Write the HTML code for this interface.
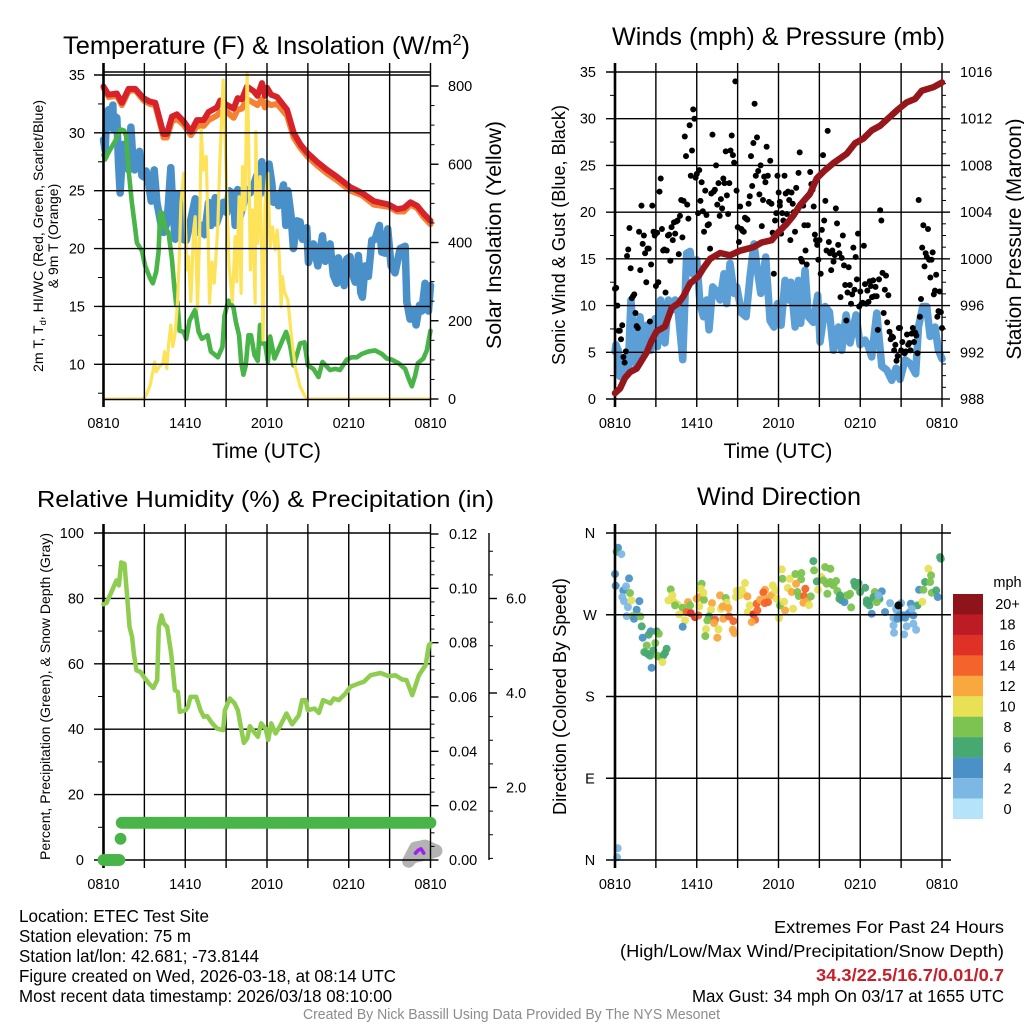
<!DOCTYPE html>
<html lang="en">
<head>
<meta charset="utf-8">
<title>ETEC Test Site Meteogram</title>
<style>
html,body{margin:0;padding:0;background:#fff;}
svg{display:block;}
text{font-family:"Liberation Sans",Arial,sans-serif;fill:#000;}
</style>
</head>
<body>
<svg id="chart" xmlns="http://www.w3.org/2000/svg" width="1024" height="1024" viewBox="0 0 1024 1024">
<rect x="0" y="0" width="1024" height="1024" fill="#fff"/>
<defs><clipPath id="insolClip"><rect x="95" y="60" width="345" height="340"/></clipPath></defs>

<g id="p1"></g>
<g id="p2"></g>
<g id="p3"></g>
<g id="p4"></g>
<g id="cb"></g>

<text x="63" y="54" font-size="25" textLength="407" lengthAdjust="spacingAndGlyphs">Temperature (F) &amp; Insolation (W/m<tspan dy="-9" font-size="16">2</tspan><tspan dy="9">)</tspan></text>
<text x="612" y="45" font-size="25" textLength="333" lengthAdjust="spacingAndGlyphs">Winds (mph) &amp; Pressure (mb)</text>
<text x="37" y="507" font-size="23" textLength="457" lengthAdjust="spacingAndGlyphs">Relative Humidity (%) &amp; Precipitation (in)</text>
<text x="697" y="505" font-size="25" textLength="164" lengthAdjust="spacingAndGlyphs">Wind Direction</text>

<text x="266.5" y="458" font-size="21" text-anchor="middle">Time (UTC)</text>
<text x="778" y="458" font-size="21" text-anchor="middle">Time (UTC)</text>

<text transform="translate(43,236) rotate(-90)" font-size="14" text-anchor="middle" textLength="272" lengthAdjust="spacingAndGlyphs">2m T, T<tspan font-size="9" dy="3">d</tspan><tspan dy="-3">, HI/WC (Red, Green, Scarlet/Blue)</tspan></text>
<text transform="translate(58,236) rotate(-90)" font-size="14" text-anchor="middle">&amp; 9m T (Orange)</text>
<text transform="translate(501,235) rotate(-90)" font-size="21" text-anchor="middle" textLength="228" lengthAdjust="spacingAndGlyphs">Solar Insolation (Yellow)</text>
<text transform="translate(565,235) rotate(-90)" font-size="18" text-anchor="middle" textLength="260" lengthAdjust="spacingAndGlyphs">Sonic Wind &amp; Gust (Blue, Black)</text>
<text transform="translate(1021,239) rotate(-90)" font-size="21" text-anchor="middle" textLength="241" lengthAdjust="spacingAndGlyphs">Station Pressure (Maroon)</text>
<text transform="translate(50,696.5) rotate(-90)" font-size="14" text-anchor="middle" textLength="327" lengthAdjust="spacingAndGlyphs">Percent, Precipitation (Green), &amp; Snow Depth (Gray)</text>
<text transform="translate(566,696.5) rotate(-90)" font-size="18" text-anchor="middle" textLength="237" lengthAdjust="spacingAndGlyphs">Direction (Colored By Speed)</text>

<text x="19" y="922" font-size="17.5" textLength="190" lengthAdjust="spacingAndGlyphs">Location: ETEC Test Site</text>
<text x="19" y="942" font-size="17.5" textLength="172" lengthAdjust="spacingAndGlyphs">Station elevation: 75 m</text>
<text x="19" y="962" font-size="17.5" textLength="240" lengthAdjust="spacingAndGlyphs">Station lat/lon: 42.681; -73.8144</text>
<text x="19" y="982" font-size="17.5" textLength="377" lengthAdjust="spacingAndGlyphs">Figure created on Wed, 2026-03-18, at 08:14 UTC</text>
<text x="19" y="1002" font-size="17.5" textLength="373" lengthAdjust="spacingAndGlyphs">Most recent data timestamp: 2026/03/18 08:10:00</text>
<text x="774" y="933" font-size="17.5" textLength="230" lengthAdjust="spacingAndGlyphs">Extremes For Past 24 Hours</text>
<text x="620" y="957" font-size="17.5" textLength="384" lengthAdjust="spacingAndGlyphs">(High/Low/Max Wind/Precipitation/Snow Depth)</text>
<text x="816" y="981" font-size="17.5" font-weight="bold" style="fill:#c8202a" textLength="188" lengthAdjust="spacingAndGlyphs">34.3/22.5/16.7/0.01/0.7</text>
<text x="692" y="1002" font-size="17.5" textLength="312" lengthAdjust="spacingAndGlyphs">Max Gust: 34 mph On 03/17 at 1655 UTC</text>
<text x="303" y="1019" font-size="14.5" style="fill:#8c8c8c" textLength="417" lengthAdjust="spacingAndGlyphs">Created By Nick Bassill Using Data Provided By The NYS Mesonet</text>
</svg>

<script>
// ---------- shared tick labels ----------
const xTickLabels = ['0810','1410','2010','0210','0810'];
const tempTicks = [10,15,20,25,30,35];
const insolTicks = [0,200,400,600,800];
const windTicks = [0,5,10,15,20,25,30,35];
const pressTicks = [988,992,996,1000,1004,1008,1012,1016];
const rhTicks = [0,20,40,60,80,100];
const precipTicks = ['0.00','0.02','0.04','0.06','0.08','0.10','0.12'];
const snowTicks = ['2.0','4.0','6.0'];
const dirTicks = ['N','E','S','W','N'];
const speedLabels = ['20+','18','16','14','12','10','8','6','4','2','0'];

// ---------- temperature panel series ----------
const tempHours = [0,.37,.98,1.35,1.84,2.33,2.94,3.4,3.8,4.41,4.65,5.02,5.39,5.88,6.42,6.86,7.35,7.71,8.33,8.57,9.06,9.55,9.85,10.16,10.53,11.02,11.3,11.63,11.85,12,12.3,12.74,13.47,13.96,14.45,14.94,15.67,16.41,17.14,18.12,18.98,19.84,20.94,21.55,22.04,22.53,23.02,23.51,24];
const tempVals = [34,33.3,33.4,32.6,33.8,33.8,33,32.7,32.6,29.9,29.9,31.4,31.6,31,30.1,31.1,31.1,31.8,32.2,32.8,32.4,32.1,33,32.9,34,33.6,33.2,34.3,33.2,33.9,33.3,33.1,32,30,29,28.3,27.5,26.8,26.2,25.3,24.8,24.1,23.8,23.4,23.5,24,23.7,23,22.4];
const temp9mVals = [33.9,33.1,33.2,32.4,33.6,33.7,32.8,32.5,32.4,29.6,29.6,31,31.2,30.7,29.8,30.6,30.6,31.1,31.5,31.8,31.8,31.3,32,32.1,32.9,32.6,32.4,32.9,32.2,32.6,32.4,32.5,31.5,29.6,28.7,28,27.2,26.5,25.9,25,24.6,23.8,23.6,23.2,23.2,23.8,23.5,22.7,22.1];
const chillHours = [0,.12,.24,.37,.49,.69,.73,.86,.98,1.1,1.22,1.35,1.47,1.66,1.84,2.01,2.13,2.28,2.45,2.64,2.82,2.94,3.13,3.3,3.5,3.72,3.92,4.11,4.28,4.41,4.65,4.77,4.94,5.09,5.26,5.43,5.63,5.83,6.07,6.32,6.73,6.98,7.22,7.42,7.71,7.88,8.2,8.31,8.56,8.8,9.05,9.22,9.54,9.66,9.85,10.03,10.27,10.51,10.76,11,11.25,11.42,11.62,11.81,11.98,12.15,12.35,12.47,12.72,12.84,13.21,13.38,13.53,13.77,13.94,14.19,14.43,14.6,14.92,15.04,15.41,15.73,16.07,16.27,16.63,16.87,17.12,17.24,17.49,17.66,17.85,18.1,18.22,18.47,18.71,18.88,19,19.2,19.44,19.69,19.93,20.25,20.42,20.67,20.86,21.11,21.4,21.77,22.14,22.26,22.5,22.75,22.94,23.19,23.36,23.6,23.85,24];
const chillVals = [29.4,28.5,31.7,32,31.1,32.4,30.3,31.4,31.3,27.4,24.8,27.4,29,28.8,26.8,30.5,28.2,26.8,27.7,28.4,26.3,26.2,26.7,25.7,24.1,26.8,24,22.8,21.7,21.4,22.2,24,27,23.4,20.8,24.7,24.1,20.8,20.7,22,24.3,21.4,22,21.2,24,22,24.4,22.2,23.1,24,23.1,25,24.7,22,25.1,22.8,23.8,25.1,24.8,25.4,26.3,24.6,27.5,25.6,24.7,27.3,25.7,24,24.6,23.7,25.5,22,25,22.8,20,22.4,22.3,20.8,21.8,18.8,20.4,18.5,21.1,18.9,20.4,17.7,17,19.2,18.2,16.8,19.1,19.3,18,17.1,19.4,16.2,15.8,18.5,17.6,20.7,20.8,22,19.7,19.6,21.7,18.5,17.9,20,20.2,15.4,13.9,14.7,13.4,15.1,14.6,17,14.6,16.8];
const dewHours = [0,.12,.37,.61,.86,1.22,1.52,1.66,1.84,2.08,2.33,2.45,2.82,3.06,3.43,3.62,3.87,4.04,4.16,4.28,4.53,4.77,5.02,5.19,5.34,5.43,5.58,5.88,6.07,6.32,6.73,6.98,7.22,7.64,7.88,8.2,8.39,8.73,8.88,9.17,9.54,9.71,9.95,10.1,10.27,10.44,10.64,10.83,11.08,11.32,11.49,11.57,11.86,12.06,12.23,12.55,12.96,13.4,13.7,13.94,14.19,14.43,14.75,15,15.41,15.78,16.07,16.63,17,17.36,17.85,18.22,18.59,18.96,19.44,19.93,20.42,20.79,21.16,21.65,22.14,22.38,22.63,22.87,23.07,23.48,23.73,24];
const dewVals = [28.1,27.7,28.3,28.8,29.3,30.3,30.2,29.7,26.8,24,21.7,20.5,19.8,18.5,17.4,17,18,19.7,23.1,23.1,21.8,21.4,19.1,16.8,15.1,15.4,12.9,12.8,12.2,13.8,14.7,12.8,12.2,12.5,11.1,10.8,10.6,11.5,14.2,15.5,14.9,13.7,12.5,10.2,9.1,9.9,12.5,12.5,10.8,10.3,13.4,11.8,11.8,10.2,12.4,10.5,11.6,12.8,11.6,9.9,10.8,11.8,11.9,9.9,9.6,8.9,10.2,9.5,9.6,9.5,10.4,10.6,10.6,10.9,11.1,11.2,10.9,10.5,10.4,10.1,9.6,8.8,8.1,9,10.1,10.5,11.2,12.9];
const insolHours = [0,2.94,3.18,3.43,3.62,3.75,3.87,4.11,4.36,4.48,4.65,4.77,4.94,5.09,5.26,5.43,5.58,5.68,5.88,6,6.12,6.24,6.41,6.61,6.73,6.9,7.05,7.17,7.34,7.54,7.64,7.78,7.96,8.13,8.39,8.53,8.78,8.92,9.12,9.22,9.46,9.66,9.78,9.95,10.1,10.2,10.39,10.54,10.64,10.78,10.93,11.13,11.18,11.32,11.49,11.62,11.71,11.86,12.06,12.23,12.4,12.6,12.74,12.89,13.04,13.13,13.28,13.53,13.77,14.06,14.43,14.8,15.04,24];
const insolVals = [0,0,14,36,70,95,70,83,91,121,78,138,189,134,168,245,381,500,577,457,330,364,249,430,466,232,415,688,585,620,480,245,350,296,440,594,815,670,449,338,249,415,300,517,270,594,483,832,688,330,483,245,683,398,568,364,151,500,577,389,440,381,432,372,236,313,274,253,168,83,32,6,0,0];

// ---------- wind panel series ----------
const windHours = [0,.07,.24,.37,.61,.81,.98,1.17,1.4,1.54,1.84,2.08,2.33,2.62,2.94,3.11,3.35,3.67,3.92,4.16,4.41,4.65,4.97,5.26,5.51,5.7,6,6.24,6.49,6.73,6.9,7.17,7.46,7.71,8,8.2,8.44,8.74,8.93,9.3,9.62,9.91,10.2,10.45,10.7,11.06,11.38,11.67,11.92,12.19,12.48,12.73,12.9,13.22,13.46,13.63,13.95,14.19,14.56,14.88,15.05,15.42,15.74,16.03,16.4,16.64,16.96,17.25,17.69,17.99,18.35,18.6,18.84,19.21,19.58,19.95,20.31,20.63,20.92,21.29,21.66,22.07,22.27,22.59,22.88,23.13,23.49,23.74,24];
const windVals = [5.1,5.8,5.2,2.4,2.6,4.2,3.5,10.6,6,3.6,8.8,4.9,7.9,5.2,8.6,5.6,10.6,6,10.6,9.5,10.6,9.2,4.2,15.6,15.8,13.4,14.9,10.2,8.8,10.6,7.4,12,11.5,10.6,13.4,10.2,14.5,11.3,12,9.2,8.8,13.1,16.6,13.8,11.3,15.2,8.4,7.7,10.2,7.9,12.7,10.6,12.5,7.7,12.7,8.1,13.8,8.8,8.2,11.1,6.1,9.9,9.3,5.2,7.7,5.2,9,6,9,5.8,6.3,5.6,4.5,9.2,3.5,3.1,2,3.3,2.1,4.2,3.8,2.7,7.7,9.9,9.9,6.7,7.7,5.2,4.3];
const pressHours = [0,.37,.73,1.1,1.59,1.96,2.33,2.69,3.06,3.67,4.16,4.65,5.02,5.51,6.12,6.49,6.98,7.71,8.44,9.18,10.16,10.77,11.5,11.92,12.6,13.09,13.58,14.32,14.81,15.42,16.03,16.52,17.01,17.62,18.23,18.84,19.46,20.68,21.41,22.03,22.52,23.37,24];
const pressVals = [988.5,988.9,989.8,990.3,990.6,991.3,992,993,993.8,994.2,995.8,996.2,996.8,997.9,998.5,999.2,1000,1000.5,1000.3,1000.7,1001,1001.4,1001.6,1002.2,1003,1003.7,1004.6,1005.6,1006.9,1007.6,1008.2,1008.6,1009,1009.9,1010.3,1011,1011.4,1012.7,1013.4,1013.7,1014.4,1014.7,1015.1];
const gustFirst12h = [11.8,11.9,10,7.3,7.3,6.4,7.9,4.5,3.9,5.1,15.3,16,18.3,14,10.8,11,11.2,9.2,7.8,7.6,17.9,13.8,20.7,16.6,17.5,15.6,12.5,16.1,16.1,8.3,14.4,20.7,17.9,17.5,12.1,17.8,12.5,22.2,23.6,18.2,15.9,16,11.4,15.9,17.5,17.6,14.8,18.4,17,18.9,17.7,19,19.1,15.5,19.6,21.3,17.3,21.2,28.1,26,20.8,19.3,29.3,23.9,26.6,31,30,23.7,24.1,19.9,24.5,21.2,23.2,20.1,17.9,22.3,19.7,18.6,18.7,16.1,22,28.3,22.2,22.4,25,20.8,23.1,19.6,21.4,20.4,23.6,23.1,26.5,21.8,19.8,23.1,26.6,28.2,26.1,25.3,34,22.3,18.4,16.8,20.6,18.2,18,17.9,19.4,19.3,19.2,20.9,21.7,26,22.8,27.4,31.6,23.9,28,24.4,21.9,25,18.5,21.3,23.8,23.2,27,23.9,21.1,25.5,20.9,17.8,13.4,19.1,19.9,23.9,22.1,21.1];
const gustLast12h = [20.7,17.7,19.9,19.1,23.9,22,19.8,22.2,21.3,17,22.1,20.9,20,17.9,22.6,20.2,24.2,26.4,15,14.7,20.7,18.6,15.9,14.4,18.6,21.8,24.3,23,22.4,20.6,17.6,17,16.5,14.9,17,13.4,18.1,26.1,19.1,21.2,15.9,28.7,16.8,15.6,13.8,15.9,14.7,15.4,20.4,18.8,16.5,15.6,10.9,15.1,17.5,14.3,12.2,8.4,11.4,14.1,12.2,10.2,11.2,16.2,11.7,15.2,12.8,17.7,9.9,11.5,10.2,10.3,16.4,12.3,10.2,11.6,10.4,12.6,12.1,10.9,12.7,11,12,11,7.4,12.8,20.2,19.1,13.5,9.2,11.7,13.2,8.2,11.1,7.2,6.4,6.7,6.6,5.2,5.8,4.1,4.6,7.6,7.6,5.2,6.1,5,4.9,5.1,6.9,5.8,6,5.2,7,7.6,6.1,7.1,6.8,4.9,21.3,8.8,10.7,16.2,18.6,14.2,15.6,15.2,18.2,14.9,13,14.9,15.7,11.2,11.6,13.3,8.8,9.4,11.5,9.3,7.6];

// ---------- humidity panel series ----------
const rhHours = [0,.22,.64,.95,1.13,1.3,1.54,1.74,1.91,2.1,2.23,2.42,2.72,2.96,3.33,3.65,3.94,4.06,4.26,4.43,4.67,4.97,5.24,5.46,5.6,6.02,6.19,6.39,6.8,7.12,7.36,7.61,7.98,8.34,8.78,8.91,9.27,9.62,9.86,10.3,10.55,10.74,11.04,11.33,11.57,11.89,12.09,12.31,12.63,12.99,13.43,13.85,14.34,14.58,14.83,15,15.49,15.81,16.12,16.66,16.91,17.27,17.76,18.13,18.74,19.11,19.6,20.33,20.94,21.43,21.92,22.24,22.66,23.15,23.64,23.88,24];
const rhVals = [78.2,78.6,82.5,85.5,84,91,90.6,80.4,71.3,68.2,63,58,57.5,56,54,52.6,55,71.3,74.8,72.3,71.3,63,51.9,51.4,45.3,45.8,46.8,49.9,49.9,45.8,43.8,44,41.8,40.2,39.7,45.8,49.4,47.9,45.8,35.8,37.2,40.9,39.2,37.7,41.8,40.2,36.7,41.8,38.7,41.2,44.8,41.5,44.3,48.9,48.9,45.8,46.3,45,48.9,47.9,49.4,48.9,50.9,53,54,54.5,56.5,57.2,56.2,56.5,55.2,55,50.4,56.5,59.6,65.7,66.2];
const precipStepHours = [0,1.2,1.27];
const precipStepVals = [0,0.0078,0.0137];
const snowHours = [22.4,22.9,23.6,24.4,23.6,22.9,22.5];
const snowVals = [0.44,0.72,0.76,0.66,0.59,0.55,0.49];
const accentHours = [22.9,23.1,23.3,23.4,23.5];
const accentVals = [2.1,3,3.4,2.8,2.1];

// ---------- direction panel series ----------
const dirHours = [.15,.2,.22,.12,.47,0,1.03,.05,.61,.81,1.1,.54,.66,1.2,1.79,.95,1.59,.86,1.3,1.4,1.86,1.96,2.62,3.06,3.21,2.47,2.03,2.96,2.33,2.81,2.15,2.37,2.57,3.79,3.67,3.11,3.3,3.55,3.48,2.69,4.09,4.21,3.92,4.33,4.58,4.41,5.36,4.97,4.72,5.14,4.97,5.26,5.56,5.87,6.12,5.51,6,6.24,6.19,6.53,6.36,6.29,6.49,7.12,7.05,6.9,6.78,7.34,7.27,7.95,8.37,8.69,7.59,6.68,6.63,7.51,8.64,8.76,7.71,8.13,8.2,7.78,7.9,8.32,8.93,9.3,9.54,8.88,9.18,9.42,9.72,9.89,9.74,10.16,10.28,10.03,10.45,10.4,10.65,11.01,10.89,11.14,10.99,11.23,11.48,11.58,11.77,11.87,12.04,12.11,12.41,12.48,13.07,12.24,12.29,12.82,13.24,13.68,13.66,13.29,12.68,12.97,13.39,13.49,13.97,13.88,14.12,13.83,14.24,14.37,14.56,14.61,14.9,15.15,15.42,15.81,14.81,15.3,15.54,15.91,16.23,15.59,16.32,16.47,16.64,16.84,17.01,17.25,17.33,17.55,17.87,17.74,18.36,17.99,18.48,18.67,18.84,19.09,19.41,19.07,19.58,19.82,20.19,20.63,21,21.71,22.2,22.56,20.44,20.44,20.48,20.73,21.05,21.29,21.66,21.9,21.41,22.1,21.22,21.9,22.32,22.64,22.76,23,23.2,23.13,23.25,23.57,23.69,23.86,23.91,15.79,16.03,16.52,17.13,17.62,18.48,18.6,18.97,19.21,19.33,20.68,20.88,21.17,21.54,21.78,20.8];
const dirDegs = [3,13,343.8,339.4,336.8,314.8,310,301.9,296.8,301.2,293.9,289.5,285,285.8,285,278.4,275.5,268.5,268.5,265.6,268.2,257.2,251.7,251.7,249.1,248,244.7,238.8,236.2,230.7,228.9,227.1,224.9,232.6,227.8,224.9,223.4,225.2,217.9,211.6,297.9,291.3,285.8,283.9,281.4,280.3,283.9,277.7,270.4,263.8,256.8,272.9,271.8,267.4,269.3,280.3,287.6,289.5,279.2,286.5,304.1,298.6,294.2,282.8,275.5,268.2,263.8,264.5,260.8,265.6,268.2,263,253.9,254.2,246.5,244.7,253.5,249.8,291.3,288.4,283.2,276.6,279.2,277.3,296.1,297.5,304.9,289.5,291.3,293.1,290.2,280.3,272.9,270.4,264.5,261.9,274.8,282.1,286.5,297.5,294.6,287.6,282.8,283.9,291.3,302.3,296.8,287.6,266.3,280.3,284.3,274.8,276.6,319.9,309.6,309.6,314.8,315.9,308.9,304.1,299.4,295,295,290.6,298.6,290.6,285,283.2,280.6,290.2,329.1,318.8,297.5,311.5,322.5,320.6,306.7,307.8,304.1,304.1,307.1,293.1,296.1,287.6,285.8,283.9,291.3,293.1,278.1,306,304.9,300.5,299.7,295,285.8,280.3,271.1,287.6,287.6,295,295.7,272.9,282.8,276.6,282.8,282.1,280.3,284.3,266.7,258.3,250.2,265.6,267.4,266.7,272.9,269.3,257.2,253.5,248.3,260.1,297.5,297.5,306,320.6,313.3,306,294.2,296.8,289.5,333.5,331.7,306,302.3,291.3,291.3,302.3,282.8,283.9,289.5,283.9,291.3,274.8,269.3,269.3,271.1,276.6,280.3];
const dirSpeeds = [2,2,4,6,2,4,4,4,4,2,8,2,2,10,4,2,4,2,8,4,8,6,4,6,8,6,4,8,8,6,6,6,6,6,6,8,8,6,10,4,8,10,10,10,10,8,12,8,10,10,4,14,16,16,14,8,12,12,10,8,8,10,10,12,10,6,8,14,12,12,14,14,10,10,8,12,12,12,12,8,10,10,12,12,10,10,10,10,10,10,12,10,10,16,14,12,14,14,12,12,14,12,14,14,12,10,10,10,10,8,10,12,10,10,8,10,8,8,8,12,10,12,8,8,14,14,12,12,10,8,6,8,10,10,8,8,6,8,8,8,8,8,8,6,6,4,8,8,8,6,6,8,6,6,6,6,4,6,6,8,4,4,2,2,2,4,6,10,2,2,2,4,4,4,4,4,2,2,2,2,4,8,6,10,8,8,8,6,4,6,6,8,8,6,8,6,6,6,6,8,2,2,4,4,4,2];

// ---------- style tables and scales (no data in here) ----------
const speedColors = ['#8e1419','#bd1c26','#e03127','#f4632a','#f9a73f','#e8e055','#7cc34f','#47a971','#4b91c8','#7db8e5','#b5e3fa'];
const NS = 'http://www.w3.org/2000/svg';

function add(parent, tag, attrs, name, text) {
  const el = document.createElementNS(NS, tag);
  for (const k in attrs) el.setAttribute(k, attrs[k]);
  
  
  if (text !== undefined) el.textContent = text;
  parent.appendChild(el);
  return el;
}
function hLine(g, x1, x2, y, w, name) {
  return add(g, 'line', {x1: x1, x2: x2, y1: y, y2: y, stroke: '#000', 'stroke-width': w}, name);
}
function vLine(g, x, y1, y2, w, name) {
  return add(g, 'line', {x1: x, x2: x, y1: y1, y2: y2, stroke: '#000', 'stroke-width': w}, name);
}
function series(g, hours, vals, xf, yf, color, w, name, extra) {
  const n = Math.min(hours.length, vals.length);
  let d = '';
  for (let i = 0; i < n; i++) d += (i ? 'L' : 'M') + xf(hours[i]).toFixed(2) + ' ' + yf(vals[i]).toFixed(2);
  const attrs = {d: d, fill: 'none', stroke: color, 'stroke-width': w, 'stroke-linecap': 'round', 'stroke-linejoin': 'round'};
  if (extra) for (const k in extra) attrs[k] = extra[k];
  return add(g, 'path', attrs, name);
}
function tickText(g, x, y, anchor, label, name) {
  return add(g, 'text', {x: x, y: y + 5, 'font-size': 14.5, 'text-anchor': anchor}, name, label);
}
function timeAxis(g, xf, top, bottom, labelY, prefix) {
  for (let i = 0; i <= 8; i++) {
    const x = xf(i * 3);
    vLine(g, x, top, bottom, i === 0 ? 2.6 : 1.4, prefix + '-time-gridline');
    if (i % 2 === 0) tickText(g, x, labelY, 'middle', xTickLabels[i / 2], prefix + '-time-tick-label');
  }
}

// ---------- panel 1 ----------
(function () {
  const g = document.getElementById('p1');
  const x = h => 103.5 + h / 24 * 327;
  const yT = v => 399 - (v - 7) * 324 / 28;
  const yI = v => 399 - v * 313 / 800;
  series(g, tempHours, temp9mVals, x, yT, '#f58233', 6, 'temperature-9m-line');
  series(g, tempHours, tempVals, x, yT, '#d7222a', 6, 'temperature-2m-line');
  series(g, chillHours, chillVals, x, yT, '#4a90c8', 7.5, 'wind-chill-line');
  series(g, dewHours, dewVals, x, yT, '#49b548', 4.6, 'dew-point-line');
  series(g, insolHours, insolVals, x, yI, '#fde35a', 3.2, 'solar-insolation-line', {'clip-path': 'url(#insolClip)'});
  for (let v = 7.5; v <= 35; v += 2.5) {
    if (v % 5 !== 0) hLine(g, 98, 103.5, yT(v), 1, 'temperature-minor-tick');
  }
  tempTicks.forEach(v => {
    hLine(g, 94, 430.5, yT(v), 1.4, 'temperature-gridline');
    tickText(g, 85, yT(v), 'end', String(v), 'temperature-tick-label');
  });
  hLine(g, 103, 430.5, 72, 1.4, 'temperature-top-frame');
  for (let v = 0; v <= 800; v += 50) {
    if (v % 200 !== 0) hLine(g, 430.5, 434.5, yI(v), 1, 'insolation-minor-tick');
  }
  insolTicks.forEach(v => {
    hLine(g, 430.5, 438.5, yI(v), 1.4, 'insolation-tick');
    tickText(g, 448, yI(v), 'start', String(v), 'insolation-tick-label');
  });
  timeAxis(g, x, 63, 407, 423, 'temperature');
  hLine(g, 103, 430.5, 399.5, 1.4, 'temperature-bottom-frame');
})();

// ---------- panel 2 ----------
(function () {
  const g = document.getElementById('p2');
  const x = h => 615 + h / 24 * 327;
  const yW = v => 399 - v * 327 / 35;
  const yP = v => 399 - (v - 988) * 327 / 28;
  series(g, windHours, windVals, x, yW, '#5b9fd6', 7.5, 'sonic-wind-line');
  for (let v = 2.5; v <= 35; v += 5) hLine(g, 610, 615, yW(v), 1, 'wind-minor-tick');
  windTicks.forEach(v => {
    hLine(g, 606, 942, yW(v), 1.4, 'wind-gridline');
    tickText(g, 596, yW(v), 'end', String(v), 'wind-tick-label');
  });
  for (let v = 988; v <= 1016; v += 1) {
    if ((v - 988) % 4 !== 0) hLine(g, 942, 946, yP(v), 1, 'pressure-minor-tick');
  }
  pressTicks.forEach(v => {
    hLine(g, 942, 950, yP(v), 1.4, 'pressure-tick');
    tickText(g, 960, yP(v), 'start', String(v), 'pressure-tick-label');
  });
  timeAxis(g, x, 63, 407, 423, 'winds');
  gustFirst12h.forEach((v, i) => {
    add(g, 'circle', {cx: x(i * 12.1 / (gustFirst12h.length - 1)), cy: yW(v), r: 3, fill: '#000'}, 'gust-point');
  });
  gustLast12h.forEach((v, i) => {
    add(g, 'circle', {cx: x(12.1 + i * 11.9 / (gustLast12h.length - 1)), cy: yW(v), r: 3, fill: '#000'}, 'gust-point');
  });
  series(g, pressHours, pressVals, x, yP, '#96171b', 6.5, 'station-pressure-line');
})();

// ---------- panel 3 ----------
(function () {
  const g = document.getElementById('p3');
  const x = h => 103.5 + h / 24 * 327;
  const yH = v => 860 - v * 3.27;
  const yR = v => 860 - v * 326 / 0.12;
  const yS = v => 882 - v * 47.25;
  series(g, snowHours, snowVals, x, yS, '#b3b3b3', 13, 'snow-depth-line');
  for (let v = 10; v <= 100; v += 20) hLine(g, 98, 103.5, yH(v), 1, 'humidity-minor-tick');
  rhTicks.forEach(v => {
    hLine(g, 94, 430.5, yH(v), 1.4, 'humidity-gridline');
    tickText(g, 84, yH(v), 'end', String(v), 'humidity-tick-label');
  });
  precipTicks.forEach((t, i) => {
    const v = parseFloat(t);
    hLine(g, 430.5, 438.5, yR(v), 1.4, 'precipitation-tick');
    if (i < precipTicks.length - 1) hLine(g, 430.5, 434.5, yR(v + 0.005), 1, 'precipitation-minor-tick');
    if (i < precipTicks.length - 1) hLine(g, 430.5, 434.5, yR(v + 0.01), 1, 'precipitation-minor-tick');
    if (i < precipTicks.length - 1) hLine(g, 430.5, 434.5, yR(v + 0.015), 1, 'precipitation-minor-tick');
    tickText(g, 449, yR(v), 'start', t, 'precipitation-tick-label');
  });
  vLine(g, 489, 533, 860, 1.4, 'snow-axis-line');
  for (let v = 0.5; v <= 7; v += 0.5) hLine(g, 489, 493, yS(v), 1, 'snow-minor-tick');
  snowTicks.forEach(t => {
    const v = parseFloat(t);
    hLine(g, 489, 497, yS(v), 1.4, 'snow-tick');
    tickText(g, 506, yS(v), 'start', t, 'snow-tick-label');
  });
  timeAxis(g, x, 524, 868, 884, 'humidity');
  series(g, rhHours, rhVals, x, yH, '#8ecd4f', 4.5, 'relative-humidity-line');
  for (let m = 0; m <= 288; m++) {
    const h = m * 5 / 60;
    let v = precipStepVals[0];
    for (let k = 0; k < precipStepHours.length; k++) if (h >= precipStepHours[k]) v = precipStepVals[k];
    add(g, 'circle', {cx: x(h), cy: yR(v), r: 5.9, fill: '#49b548'}, 'precipitation-point');
  }
  series(g, accentHours, accentVals, x, yH, '#a020f0', 3.6, 'snow-accent-line');
})();

// ---------- panel 4 ----------
(function () {
  const g = document.getElementById('p4');
  const x = h => 615 + h / 24 * 327;
  const yD = d => 860 - d * 327 / 360;
  dirHours.forEach((h, i) => {
    const idx = speedColors.length - 1 - Math.min(10, Math.floor(dirSpeeds[i] / 2));
    add(g, 'circle', {cx: x(h), cy: yD(dirDegs[i]), r: 4, fill: speedColors[idx], 'fill-opacity': 0.95}, 'direction-point');
  });
  dirTicks.forEach((t, i) => {
    const d = i * 90;
    hLine(g, 606, 951, yD(d), 1.4, 'direction-gridline');
    tickText(g, 590, yD(d), 'middle', t, 'direction-tick-label');
  });
  timeAxis(g, x, 524, 868, 884, 'direction');
})();

// ---------- colorbar ----------
(function () {
  const g = document.getElementById('cb');
  add(g, 'text', {x: 1007.5, y: 587, 'font-size': 14.5, 'text-anchor': 'middle'}, 'colorbar-unit-label', 'mph');
  speedLabels.forEach((t, i) => {
    add(g, 'rect', {x: 953, y: 594 + i * 20.45, width: 30, height: 20.6, fill: speedColors[i]}, 'colorbar-swatch');
    add(g, 'text', {x: 1007.5, y: 609 + i * 20.5, 'font-size': 14.5, 'text-anchor': 'middle'}, 'colorbar-label', t);
  });
})();
</script>
</body>
</html>
